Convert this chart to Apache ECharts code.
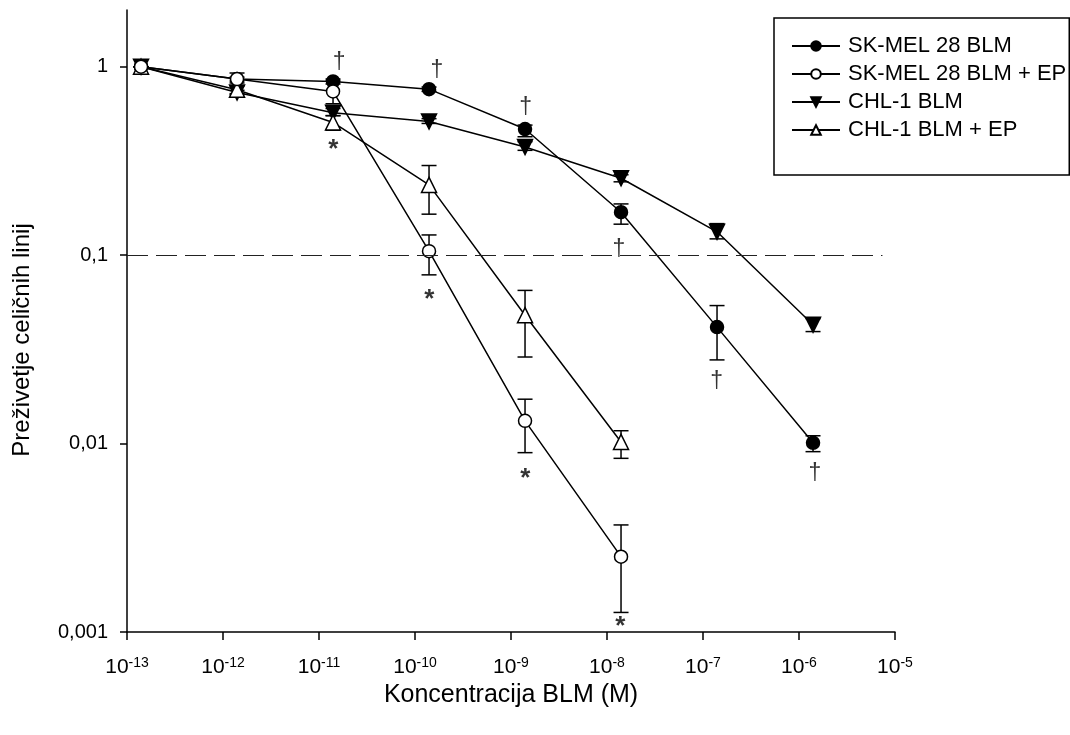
<!DOCTYPE html>
<html>
<head>
<meta charset="utf-8">
<script src="https://cdn.jsdelivr.net/npm/echarts@6/dist/echarts.min.js"></script>
<style>
  html, body { margin: 0; padding: 0; background: #fff; }
  #main { width: 1070px; height: 735px; }
</style>
</head>
<body>
<div id="main"></div>
<script>
// koncentracije BLM (M)
const conc = [1.4e-13, 1.4e-12, 1.4e-11, 1.4e-10, 1.4e-9, 1.4e-8, 1.4e-7, 1.4e-6];

// preživetje
const skmel = [1, 0.86, 0.835, 0.76, 0.467, 0.169, 0.0415, 0.0101];
const skmelLo = [1, 0.84, 0.81, 0.74, 0.425, 0.146, 0.0278, 0.00906];
const skmelHi = [1, 0.88, 0.86, 0.78, 0.49, 0.187, 0.054, 0.011];

const skmelEP = [1, 0.86, 0.739, 0.105, 0.0132, 0.00251];
const skmelEPLo = [1, 0.82, 0.636, 0.0786, 0.00895, 0.00127];
const skmelEPHi = [1, 0.926, 0.84, 0.128, 0.0172, 0.0037];

const chl = [1, 0.73, 0.57, 0.512, 0.375, 0.256, 0.133, 0.0427];
const chlLo = [1, 0.71, 0.55, 0.50, 0.36, 0.245, 0.122, 0.0393];
const chlHi = [1, 0.75, 0.60, 0.53, 0.40, 0.267, 0.147, 0.046];

const chlEP = [1, 0.755, 0.506, 0.236, 0.048, 0.0102];
const chlEPLo = [1, 0.72, 0.46, 0.165, 0.0288, 0.00835];
const chlEPHi = [1, 0.79, 0.55, 0.299, 0.065, 0.0117];

const names = ['SK-MEL 28 BLM', 'SK-MEL 28 BLM + EP', 'CHL-1 BLM', 'CHL-1 BLM + EP'];

// oznake značilnosti
const daggerX = [1.62e-11, 1.69e-10, 1.42e-9, 1.33e-8, 1.39e-7, 1.46e-6];
const daggerY = [1.06, 0.964, 0.611, 0.108, 0.0216, 0.00698];
const starX = [1.41e-11, 1.41e-10, 1.41e-9, 1.38e-8];
const starY = [0.385, 0.0615, 0.00687, 0.00113];

const threshold = 0.1;
const yTicks = [0.001, 0.01, 0.1, 1];

const pairs = (xs, ys) => ys.map((v, i) => [xs[i], v]);
const errData = (lo, hi) => lo.map((v, i) => [conc[i], v, hi[i]]);

const myChart = echarts.init(document.getElementById('main'));

const errSeries = (name, lo, hi) => ({
    name: name,
    type: 'custom',
    silent: true,
    z: 1,
    data: errData(lo, hi),
    renderItem: function (params, api) {
        const x = api.value(0);
        const top = api.coord([x, api.value(2)]);
        const bot = api.coord([x, api.value(1)]);
        const w = 7.5;
        const st = { stroke: '#000', lineWidth: 1.5 };
        return {
            type: 'group',
            children: [
                { type: 'line', shape: { x1: top[0], y1: top[1], x2: bot[0], y2: bot[1] }, style: st },
                { type: 'line', shape: { x1: top[0] - w, y1: top[1], x2: top[0] + w, y2: top[1] }, style: st },
                { type: 'line', shape: { x1: bot[0] - w, y1: bot[1], x2: bot[0] + w, y2: bot[1] }, style: st }
            ]
        };
    }
});

const lineSeries = (name, data, symbol, fill, rotate, size) => ({
    name: name,
    type: 'line',
    z: 3,
    data: pairs(conc, data),
    symbol: symbol,
    symbolSize: size,
    symbolRotate: rotate,
    showSymbol: true,
    lineStyle: { color: '#000', width: 1.5 },
    itemStyle: { color: fill, borderColor: '#000', borderWidth: 1.5 },
    emphasis: { disabled: true }
});

const option = {
    animation: false,
    textStyle: { fontFamily: 'Liberation Sans, Arial, sans-serif' },
    grid: { left: 127, right: 175, top: 10, bottom: 103 },
    legend: {
        data: names,
        orient: 'vertical',
        left: 774,
        top: 18,
        padding: [17, 3, 34, 17],
        itemWidth: 48,
        itemHeight: 12,
        itemGap: 6,
        borderColor: '#000',
        borderWidth: 1.5,
        borderRadius: 0,
        textStyle: { fontSize: 22, color: '#000', padding: [0, 0, 0, 3], fontFamily: 'Liberation Sans, Arial, sans-serif' }
    },
    xAxis: {
        type: 'log',
        logBase: 10,
        min: 1e-13,
        max: 1e-5,
        interval: 1,
        name: 'Koncentracija BLM (M)',
        nameLocation: 'middle',
        nameGap: 47,
        nameTextStyle: { fontSize: 25, color: '#000' },
        axisLine: { lineStyle: { color: '#000', width: 1.5 } },
        axisTick: { show: true, length: 8, lineStyle: { color: '#000', width: 1.5 } },
        splitLine: { show: false },
        minorTick: { show: false },
        axisLabel: {
            margin: 24,
            color: '#000',
            formatter: function (value) {
                const e = Math.round(Math.log10(value));
                return '{b|10}{s|' + e + '}';
            },
            rich: {
                b: { fontSize: 21, lineHeight: 22, color: '#000' },
                s: { fontSize: 14, lineHeight: 14, verticalAlign: 'top', color: '#000' }
            }
        }
    },
    yAxis: {
        type: 'log',
        logBase: 10,
        min: 0.001,
        max: 2,
        name: 'Preživetje celičnih linij',
        nameLocation: 'middle',
        nameGap: 93,
        nameTextStyle: { fontSize: 24, color: '#000', padding: [0, 38, 0, 0] },
        axisLine: { show: true, lineStyle: { color: '#000', width: 1.5 } },
        axisTick: { show: true, length: 7, customValues: yTicks, lineStyle: { color: '#000', width: 1.5 } },
        splitLine: { show: false },
        axisLabel: {
            margin: 19,
            fontSize: 20,
            color: '#000',
            customValues: yTicks,
            formatter: function (value) {
                return String(value).replace('.', ',');
            }
        }
    },
    series: [
        errSeries('err1', skmelLo, skmelHi),
        errSeries('err2', skmelEPLo, skmelEPHi),
        errSeries('err3', chlLo, chlHi),
        errSeries('err4', chlEPLo, chlEPHi),
        Object.assign(lineSeries(names[0], skmel, 'circle', '#000', 0, 13), {
            markLine: {
                silent: true,
                symbol: 'none',
                label: { show: false },
                lineStyle: { color: '#222', width: 1.2, type: [21, 8] },
                data: [[{ coord: [1e-13, threshold] }, { coord: [7.4e-6, threshold] }]]
            }
        }),
        lineSeries(names[2], chl, 'triangle', '#000', 180, 15),
        lineSeries(names[3], chlEP, 'triangle', '#fff', 0, 15),
        lineSeries(names[1], skmelEP, 'circle', '#fff', 0, 13),
        {
            name: 'dagger',
            type: 'scatter',
            silent: true,
            z: 4,
            symbolSize: 0,
            data: pairs(daggerX, daggerY),
            label: {
                show: true,
                position: 'inside',
                formatter: '†',
                fontSize: 23,
                color: '#000',
                offset: [0, 1]
            }
        },
        {
            name: 'star',
            type: 'scatter',
            silent: true,
            z: 4,
            symbolSize: 0,
            data: pairs(starX, starY),
            label: {
                show: true,
                position: 'inside',
                formatter: '*',
                fontSize: 26,
                fontWeight: 'bold',
                color: '#000',
                offset: [0, 5]
            }
        }
    ]
};

myChart.setOption(option);
</script>
</body>
</html>
